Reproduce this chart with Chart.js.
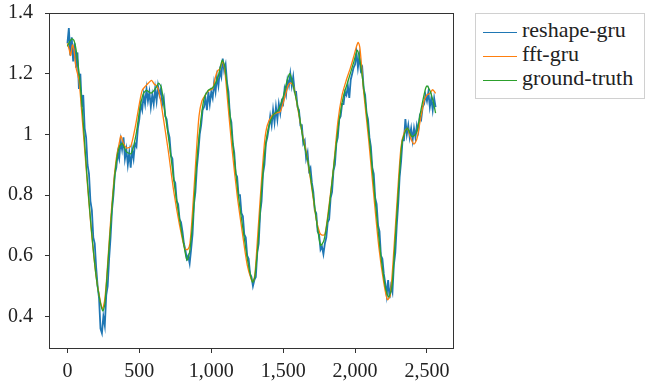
<!DOCTYPE html>
<html>
<head>
<meta charset="utf-8">
<script src="https://cdn.jsdelivr.net/npm/chart.js@4/dist/chart.umd.min.js"></script>
<style>
  html, body { margin: 0; padding: 0; background: #fff; }
  #wrap { position: relative; width: 651px; height: 390px; }
  #legend {
    position: absolute; left: 475px; top: 13px; width: 170px; height: 86px;
    border: 1px solid #d0d0d0; box-sizing: border-box; background: #fff;
    font-family: "Liberation Serif", serif; font-size: 22px; color: #222;
  }
  .row { position: absolute; left: 0; height: 24px; line-height: 24px; white-space: nowrap; }
  .sw { position: absolute; left: 7px; top: 12px; width: 34px; height: 1px; }
  .lb { position: absolute; left: 46px; top: -2px; }
</style>
</head>
<body>
<div id="wrap">
  <canvas id="c" width="651" height="390"></canvas>
  <div id="legend"></div>
</div>
<script>
// ---------------- data ----------------
const seriesNames = ["reshape-gru", "fft-gru", "ground-truth"];
const seriesColors = ["#1f77b4", "#ff7f0e", "#2ca02c"];

const xTicks = [0, 500, 1000, 1500, 2000, 2500];
const yTicks = [0.4, 0.6, 0.8, 1.0, 1.2, 1.4];

// ground-truth (knots)
const truthX = [0,15,30,45,60,84,107,135,165,200,225,246,260,270,293,316,339,362,381,409,444,479,502,525,548,583,618,634,653,676,711,746,781,816,832,850,874,897,920,948,978,1013,1048,1076,1094,1118,1152,1187,1222,1257,1287,1303,1327,1350,1374,1397,1431,1466,1501,1529,1547,1571,1606,1640,1675,1710,1738,1761,1784,1815,1849,1884,1919,1954,1989,2017,2040,2070,2105,2140,2175,2210,2233,2256,2279,2303,2326,2349,2365,2395,2426,2458,2488,2500,2523,2546,2560];
const truthY = [1.29,1.305,1.315,1.31,1.28,1.19,1.06,0.87,0.695,0.53,0.455,0.418,0.44,0.497,0.65,0.794,0.905,0.96,0.97,0.943,0.937,1.004,1.08,1.13,1.145,1.136,1.155,1.169,1.155,1.08,0.96,0.827,0.717,0.618,0.585,0.613,0.728,0.893,1.014,1.114,1.145,1.155,1.19,1.244,1.224,1.125,0.96,0.805,0.684,0.574,0.513,0.53,0.651,0.816,0.948,1.02,1.064,1.08,1.125,1.18,1.2,1.158,1.08,0.98,0.904,0.794,0.695,0.634,0.651,0.74,0.882,1.026,1.125,1.18,1.235,1.277,1.224,1.114,0.96,0.783,0.618,0.497,0.464,0.497,0.651,0.827,0.97,1.009,1.02,0.993,1.004,1.08,1.147,1.16,1.141,1.103,1.07];

// fft-gru (knots)
const fftX = [0,12,22,35,45,60,80,105,135,165,200,225,243,258,272,295,318,340,362,372,390,412,440,470,500,520,545,565,585,605,625,645,665,700,740,780,815,835,852,872,895,915,935,960,985,1010,1030,1045,1060,1078,1092,1112,1145,1180,1215,1250,1280,1292,1305,1325,1350,1372,1390,1420,1450,1480,1510,1535,1550,1572,1600,1630,1665,1700,1730,1755,1770,1790,1815,1850,1880,1910,1940,1965,1990,2010,2022,2035,2060,2095,2130,2165,2200,2225,2245,2270,2295,2320,2345,2365,2385,2410,2430,2455,2480,2500,2520,2540,2560];
const fftY = [1.30,1.28,1.26,1.295,1.28,1.22,1.18,1.04,0.86,0.69,0.53,0.46,0.425,0.45,0.52,0.68,0.82,0.92,0.975,0.995,0.97,0.955,0.96,1.02,1.10,1.145,1.16,1.17,1.178,1.165,1.158,1.12,1.06,0.95,0.81,0.70,0.625,0.62,0.64,0.76,0.93,1.06,1.11,1.13,1.145,1.15,1.19,1.21,1.215,1.24,1.22,1.12,0.95,0.80,0.68,0.57,0.52,0.515,0.545,0.68,0.85,0.98,1.03,1.06,1.07,1.075,1.12,1.16,1.17,1.16,1.09,1.01,0.93,0.82,0.72,0.675,0.668,0.67,0.75,0.89,1.04,1.13,1.18,1.215,1.255,1.29,1.303,1.28,1.14,0.98,0.80,0.63,0.51,0.455,0.47,0.62,0.80,0.96,1.01,1.02,0.99,0.968,0.985,1.05,1.11,1.13,1.135,1.147,1.135];

// reshape-gru, one value every 10 steps starting at 0
const reshapeStart = 0;
const reshapeStep = 10;
const reshapeY = [
  1.30,1.35,1.26,1.32,1.24,1.30,1.22,1.27,1.15,1.20,
  1.09,1.13,1.02,0.99,0.90,0.87,0.78,0.75,0.66,0.64,
  0.56,0.50,0.46,0.36,0.345,0.40,0.37,0.47,0.50,0.59,
  0.66,0.75,0.80,0.87,0.89,0.94,0.92,0.98,0.95,0.99,
  0.92,0.95,0.90,0.94,0.89,0.95,0.92,0.97,0.96,1.02,
  1.05,1.10,1.08,1.13,1.10,1.15,1.11,1.14,1.09,1.13,
  1.10,1.15,1.11,1.16,1.13,1.15,1.10,1.12,1.06,1.05,
  1.01,0.99,0.93,0.92,0.85,0.84,0.78,0.77,0.72,0.71,
  0.68,0.64,0.62,0.59,0.60,0.575,0.62,0.67,0.77,0.81,
  0.89,0.94,1.00,1.03,1.08,1.09,1.12,1.08,1.14,1.10,
  1.14,1.12,1.17,1.14,1.19,1.16,1.21,1.19,1.25,1.21,
  1.23,1.17,1.14,1.06,1.04,0.97,0.94,0.87,0.86,0.80,
  0.80,0.74,0.73,0.67,0.66,0.60,0.59,0.54,0.53,0.50,
  0.52,0.53,0.61,0.64,0.74,0.78,0.87,0.90,0.97,0.99,
  1.02,1.06,1.03,1.08,1.04,1.09,1.05,1.10,1.07,1.11,
  1.10,1.15,1.13,1.18,1.16,1.20,1.16,1.19,1.14,1.14,
  1.09,1.08,1.03,1.03,0.97,0.98,0.92,0.94,0.88,0.89,
  0.84,0.81,0.75,0.74,0.68,0.67,0.62,0.63,0.605,0.64,
  0.66,0.71,0.72,0.79,0.81,0.88,0.90,0.97,0.99,1.05,
  1.06,1.10,1.10,1.14,1.13,1.16,1.12,1.18,1.20,1.22,
  1.23,1.27,1.22,1.26,1.21,1.22,1.15,1.13,1.07,1.05,
  0.99,0.96,0.89,0.87,0.79,0.77,0.70,0.68,0.60,0.59,
  0.54,0.51,0.47,0.52,0.46,0.50,0.48,0.57,0.61,0.70,
  0.77,0.86,0.91,0.98,0.98,1.05,1.00,1.03,0.99,1.02,
  0.98,1.02,0.99,1.03,1.01,1.06,1.05,1.09,1.10,1.13,
  1.11,1.14,1.09,1.12,1.08,1.12,1.09
];

// ---------------- build ----------------
function pairs(xs, ys) { return xs.map((x, i) => ({ x: x, y: ys[i] })); }
const reshapePts = reshapeY.map((y, i) => ({ x: reshapeStart + i * reshapeStep, y: y }));

const FONT = "'Liberation Serif', serif";

const boxPlugin = {
  id: 'box',
  afterDatasetsDraw(chart) {
    const a = chart.chartArea, ctx = chart.ctx;
    ctx.save();
    ctx.strokeStyle = '#333';
    ctx.lineWidth = 1;
    ctx.strokeRect(Math.round(a.left) + 0.5, Math.round(a.top) + 0.5,
                   Math.round(a.right - a.left) - 1, Math.round(a.bottom - a.top) - 1);
    ctx.restore();
  }
};

new Chart(document.getElementById('c'), {
  type: 'line',
  data: {
    datasets: [
      { label: seriesNames[0], data: reshapePts, borderColor: seriesColors[0], borderWidth: 1.8, pointRadius: 0, tension: 0, order: 2 },
      { label: seriesNames[1], data: pairs(fftX, fftY), borderColor: seriesColors[1], borderWidth: 1.3, pointRadius: 0, tension: 0.25, order: 1 },
      { label: seriesNames[2], data: pairs(truthX, truthY), borderColor: seriesColors[2], borderWidth: 1.3, pointRadius: 0, tension: 0.25, order: 0 }
    ]
  },
  options: {
    responsive: false,
    animation: false,
    events: [],
    layout: { padding: { left: 0, top: 13, right: 197, bottom: 0 } },
    plugins: { legend: { display: false }, tooltip: { enabled: false } },
    scales: {
      x: {
        type: 'linear', min: -128, max: 2688,
        afterFit(s) { s.height = 41; s.paddingLeft = 0; s.paddingRight = 0; },
        afterBuildTicks(s) { s.ticks = xTicks.map(v => ({ value: v })); },
        grid: { drawOnChartArea: false, drawTicks: true, tickLength: 4, color: '#333', tickColor: '#333' },
        border: { display: false },
        ticks: {
          padding: 7, color: '#222', font: { family: FONT, size: 20 },
          maxRotation: 0, autoSkip: false,
          callback: v => v.toLocaleString('en-US')
        }
      },
      y: {
        type: 'linear', min: 0.2925, max: 1.4,
        afterFit(s) { s.width = 49; s.paddingTop = 0; s.paddingBottom = 0; },
        afterBuildTicks(s) { s.ticks = yTicks.map(v => ({ value: v })); },
        grid: { drawOnChartArea: false, drawTicks: true, tickLength: 4, color: '#333', tickColor: '#333' },
        border: { display: false },
        ticks: {
          padding: 12, color: '#222', font: { family: FONT, size: 20 },
          callback: v => String(Math.round(v * 10) / 10)
        }
      }
    }
  },
  plugins: [boxPlugin]
});

// HTML legend
const lg = document.getElementById('legend');
seriesNames.forEach((n, i) => {
  const r = document.createElement('div');
  r.className = 'row';
  r.style.top = (6 + i * 24) + 'px';
  r.innerHTML = '<span class="sw" style="background:' + seriesColors[i] + '"></span><span class="lb"></span>';
  r.querySelector('.lb').textContent = n;
  lg.appendChild(r);
});
</script>
</body>
</html>
